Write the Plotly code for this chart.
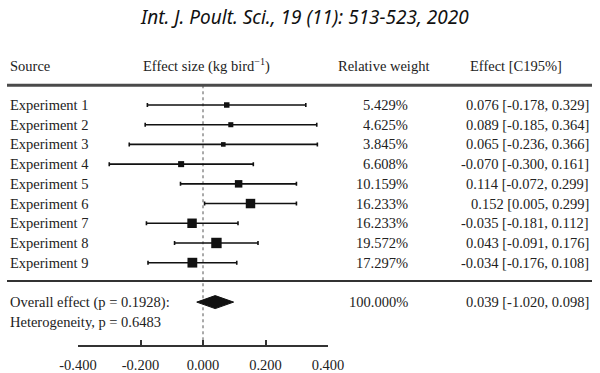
import plotly.graph_objects as go

# ---------------- data ----------------
sources = ["Experiment 1", "Experiment 2", "Experiment 3", "Experiment 4", "Experiment 5",
           "Experiment 6", "Experiment 7", "Experiment 8", "Experiment 9"]
effect = [0.076, 0.089, 0.065, -0.070, 0.114, 0.152, -0.035, 0.043, -0.034]
ci_low = [-0.178, -0.185, -0.236, -0.300, -0.072, 0.005, -0.181, -0.091, -0.176]
ci_high = [0.329, 0.364, 0.366, 0.161, 0.299, 0.299, 0.112, 0.176, 0.108]
weights = [5.429, 4.625, 3.845, 6.608, 10.159, 16.233, 16.233, 19.572, 17.297]

overall_effect = 0.039
overall_low = -0.020
overall_high = 0.098
overall_weight = 100.000
overall_label = "0.039 [-1.020, 0.098]"
overall_p = 0.1928
heterogeneity_p = 0.6483

tick_values = [-0.4, -0.2, 0.0, 0.2, 0.4]
tick_labels = ["-0.400", "-0.200", "0.000", "0.200", "0.400"]

title_text = "Int. J. Poult. Sci., 19 (11): 513-523, 2020"
headers = ["Source", "Effect size (kg bird<sup>\u22121</sup>)", "Relative weight", "Effect [C195%]"]

# ---------------- layout helpers ----------------
W, H = 600, 373
ROW0_PX, ROW_STEP = 105.0, 19.71   # pixel y of row 1 and row spacing


def px2row(py):
    return (py - ROW0_PX) / ROW_STEP + 1


rows = list(range(1, len(sources) + 1))
overall_row = len(sources) + 2
het_row = overall_row + 1
header_row = -1
serif = "Liberation Serif"
txt_col = "#222222"
mark_col = "#111111"
fs = 14.5

fig = go.Figure()

# experiment squares with CI whiskers
fig.add_trace(go.Scatter(
    x=effect, y=rows, mode="markers",
    marker=dict(symbol="square", size=[2.35 * w ** 0.5 for w in weights], color=mark_col,
                opacity=1, line=dict(width=0)),
    error_x=dict(type="data", symmetric=False,
                 array=[h - e for h, e in zip(ci_high, effect)],
                 arrayminus=[e - l for e, l in zip(effect, ci_low)],
                 color=mark_col, thickness=1.6, width=2),
    cliponaxis=False, showlegend=False, hoverinfo="skip",
))

# overall diamond
half = 0.33
fig.add_trace(go.Scatter(
    x=[overall_low, overall_effect, overall_high, overall_effect, overall_low],
    y=[overall_row, overall_row - half, overall_row, overall_row + half, overall_row],
    mode="lines", fill="toself", fillcolor=mark_col,
    line=dict(color=mark_col, width=1),
    cliponaxis=False, showlegend=False, hoverinfo="skip",
))

ann = []


def add_text(text, xpx, row, anchor, size=fs, family=serif, color=txt_col):
    ann.append(dict(text=text, x=xpx / W, xref="paper", y=row, yref="y",
                    xanchor=anchor, yanchor="middle", showarrow=False,
                    font=dict(family=family, size=size, color=color)))


# title
add_text("<i>" + title_text + "</i>", 304, px2row(17), "center", size=19,
         family="Noto Sans", color="#111111")

# headers
add_text(headers[0], 8, header_row, "left")
add_text(headers[1], 207, header_row, "center")
add_text(headers[2], 383, header_row, "center")
add_text(headers[3], 516, header_row, "center")

for r, s, e, l, h, w in zip(rows, sources, effect, ci_low, ci_high, weights):
    add_text(s, 8, r, "left")
    add_text(f"{w:.3f}%", 410, r, "right")
    add_text(f"{e:.3f} [{l:.3f}, {h:.3f}]", 591, r, "right")

add_text(f"Overall effect (p = {overall_p:.4f}):", 8, overall_row, "left")
add_text(f"{overall_weight:.3f}%", 410, overall_row, "right")
add_text(overall_label, 591, overall_row, "right")
add_text(f"Heterogeneity, p = {heterogeneity_p:.4f}", 8, het_row, "left")

axis_px = 346
shapes = [
    # top rule
    dict(type="line", xref="paper", yref="y", x0=7 / W, x1=592 / W, y0=0, y1=0,
         line=dict(color="#4a4a4a", width=3)),
    # bottom rule
    dict(type="line", xref="paper", yref="y", x0=7 / W, x1=592 / W,
         y0=len(sources) + 0.93, y1=len(sources) + 0.93,
         line=dict(color="#333333", width=2)),
    # zero reference
    dict(type="line", xref="x", yref="y", x0=0, x1=0, y0=0, y1=px2row(axis_px),
         line=dict(color="#555555", width=1, dash="dot"), layer="below"),
]

fig.update_layout(
    width=W, height=H, margin=dict(l=0, r=0, t=0, b=0, autoexpand=False),
    paper_bgcolor="white", plot_bgcolor="white",
    annotations=ann, shapes=shapes,
    xaxis=dict(domain=[78 / W, 328 / W], range=[-0.4, 0.4], anchor="free",
               position=1 - axis_px / H, showline=True, linecolor="#333333", linewidth=2,
               ticks="inside", ticklen=5, tickwidth=2, tickcolor="#333333",
               tickvals=tick_values, ticktext=tick_labels,
               tickfont=dict(family=serif, size=fs, color=txt_col),
               ticklabelstandoff=6, automargin=False,
               showgrid=False, zeroline=False, fixedrange=True),
    yaxis=dict(domain=[0, 1], range=[px2row(H), px2row(0)], visible=False,
               showgrid=False, zeroline=False, fixedrange=True),
)

fig.write_html("out.html", config={"displayModeBar": False},
               post_script="document.body.style.margin='0';document.body.style.overflow='hidden';")
